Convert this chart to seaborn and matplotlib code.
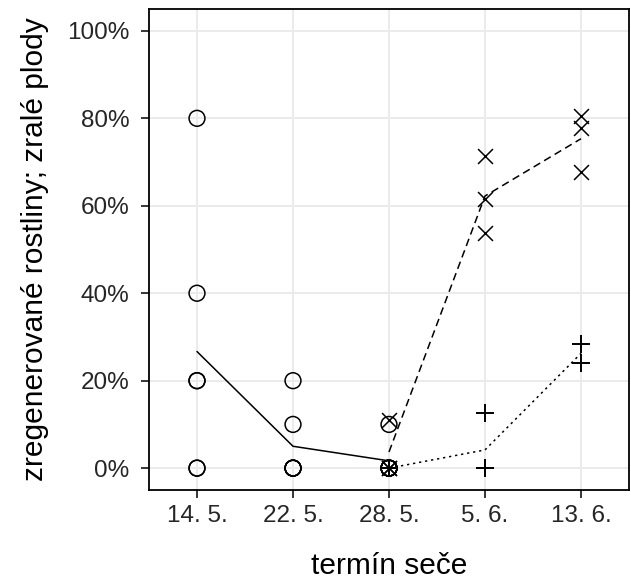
import matplotlib
matplotlib.use("Agg")
import matplotlib.pyplot as plt
import seaborn as sns
import pandas as pd
from matplotlib.ticker import PercentFormatter

dates = ["14. 5.", "22. 5.", "28. 5.", "5. 6.", "13. 6."]

# regenerated plants (circles, solid mean line)
regen_dates = ["14. 5."] * 6 + ["22. 5."] * 6 + ["28. 5."] * 6
regen_vals = [0.80, 0.40, 0.20, 0.20, 0.0, 0.0,
              0.20, 0.10, 0.0, 0.0, 0.0, 0.0,
              0.10, 0.0, 0.0, 0.0, 0.0, 0.0]

# series with crosses (dashed mean line)
cross_dates = ["28. 5."] * 3 + ["5. 6."] * 3 + ["13. 6."] * 3
cross_vals = [0.111, 0.0, 0.0,
              0.714, 0.615, 0.538,
              0.805, 0.778, 0.677]

# series with plus signs (dotted mean line)
plus_dates = ["28. 5."] * 3 + ["5. 6."] * 3 + ["13. 6."] * 2
plus_vals = [0.0, 0.0, 0.0,
             0.125, 0.0, 0.0,
             0.285, 0.240]

frames = []
for name, d, v in [("regen", regen_dates, regen_vals),
                   ("cross", cross_dates, cross_vals),
                   ("plus", plus_dates, plus_vals)]:
    frames.append(pd.DataFrame({"date": d, "value": v, "type": name}))
df = pd.concat(frames, ignore_index=True)
df["pos"] = df["date"].map({d: i for i, d in enumerate(dates)})

sns.set_theme(style="white")
plt.rcParams["font.family"] = ["Liberation Sans", "DejaVu Sans"]

fig = plt.figure(figsize=(6.31, 5.88), dpi=100)
ax = fig.add_axes([149 / 631, 1 - 490 / 588, 480 / 631, 481 / 588])

ax.grid(True, color="#EBEBEB", linewidth=1.4, zorder=0)
ax.set_axisbelow(True)

sns.lineplot(data=df, x="pos", y="value", style="type", estimator="mean",
             errorbar=None, color="black", linewidth=1.1,
             dashes={"regen": "", "cross": (5, 3), "plus": (1.5, 2.5)},
             legend=False, ax=ax, zorder=3)

markers = {"regen": "o", "cross": "x", "plus": "+"}
sizes = {"regen": 130, "cross": 115, "plus": 160}
for t, m in markers.items():
    sub = df[df["type"] == t]
    if m == "o":
        sns.scatterplot(data=sub, x="pos", y="value", marker=m, s=sizes[t],
                        facecolors="none", edgecolor="black", linewidth=1.1,
                        legend=False, ax=ax, zorder=4)
    else:
        sns.scatterplot(data=sub, x="pos", y="value", marker=m, s=sizes[t],
                        color="black", linewidth=1.4 if m == "+" else 1.1,
                        legend=False, ax=ax, zorder=4)

ax.set_xlim(-0.5, 4.5)
ax.set_ylim(-0.05, 1.05)
ax.set_xticks(range(len(dates)))
ax.set_xticklabels(dates)
ax.set_yticks([0, 0.2, 0.4, 0.6, 0.8, 1.0])
ax.yaxis.set_major_formatter(PercentFormatter(1.0, decimals=0))

for s in ax.spines.values():
    s.set_visible(True)
    s.set_color("black")
    s.set_linewidth(1.3)

ax.tick_params(axis="both", which="major", length=6, width=1.1, color="black",
               labelsize=17.5, labelcolor="#262626", bottom=True, left=True)
ax.tick_params(axis="y", pad=8)
ax.tick_params(axis="x", pad=5)
ax.set_xlabel("termín seče", fontsize=21.5, color="black", labelpad=18)
ax.set_ylabel("zregenerované rostliny; zralé plody", fontsize=21.5,
              color="black", labelpad=13)

fig.savefig("out.png", dpi=100)
